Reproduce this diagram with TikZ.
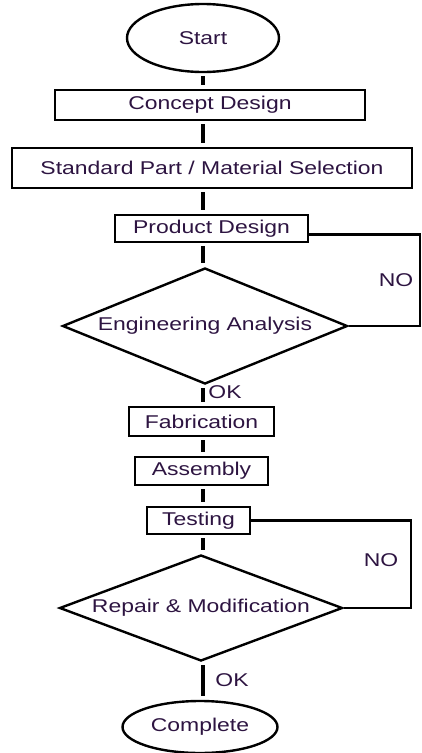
\documentclass[tikz,border=0pt]{standalone}
\usepackage{fontspec}
\setmainfont{Liberation Sans}[FakeStretch=1.24]
\usetikzlibrary{positioning,shapes.geometric}
\definecolor{txt}{RGB}{45,20,65}

\begin{document}
\begin{tikzpicture}[x=1pt,y=-1pt,
every node/.style={font=\fontsize{18.5}{20}\selectfont, text=txt, inner sep=1pt},
box/.style={rectangle, draw, line width=2.4pt},
term/.style={ellipse, draw, line width=2.4pt},
decide/.style={diamond, draw, line width=2.4pt},
link/.style={line width=4.5pt, shorten <=3pt, shorten >=4pt},
back/.style={line width=2.8pt}]
\useasboundingbox (0,0) rectangle (421,753);
\node [term, minimum width=152pt, minimum height=68pt] (start) at (203,38) {Start};
\node [box, minimum width=310pt, minimum height=30pt] (concept) at (210,105) {Concept Design};
\node [box, minimum width=400pt, minimum height=40pt] (standard) at (212,168) {Standard Part / Material Selection};
\node [box, minimum width=193pt, minimum height=27pt] (product) at (211.5,228.5) {Product Design};
\node [decide, aspect=2.46, minimum width=285pt, minimum height=116pt] (eng) at (205,326) {Engineering Analysis};
\node [box, minimum width=145pt, minimum height=29pt] (fab) at (201.5,421.5) {Fabrication};
\node [box, minimum width=133pt, minimum height=28pt] (assy) at (201.5,471) {Assembly};
\node [box, minimum width=103pt, minimum height=27pt] (test) at (198.5,520.5) {Testing};
\node [decide, aspect=2.67, minimum width=283pt, minimum height=106pt] (repair) at (201,608) {Repair \& Modification};
\node [term, minimum width=155pt, minimum height=52pt] (complete) at (200,727) {Complete};
% labels
\node (ok1) at (225,392) {OK};
\node (no1) at (396,280) {NO};
\node (no2) at (381,560) {NO};
\node (ok2) at (232,680) {OK};
% main line
\draw[link] (start.south) -- (start.south |- concept.north);
\draw[link] (concept.south -| start) -- (standard.north -| start);
\draw[link] (standard.south -| start) -- (product.north -| start);
\draw[link] (product.south -| start) -- (eng.north -| start);
\draw[link] (eng.south -| start) -- (fab.north -| start);
\draw[link] (fab.south -| start) -- (assy.north -| start);
\draw[link] (assy.south -| start) -- (test.north -| start);
\draw[link] (test.south -| start) -- (repair.north -| start);
\draw[link] (repair.south -| start) -- (complete.north -| start);
% loops back
\coordinate (edge1) at (420,0);
\coordinate (edge2) at (411,0);
\draw[back] ([yshift=-6pt]product.east) -| (edge1 |- eng.east) -- (eng.east);
\draw[back] (test.east) -| (edge2 |- repair.east) -- (repair.east);
\end{tikzpicture}
\end{document}
